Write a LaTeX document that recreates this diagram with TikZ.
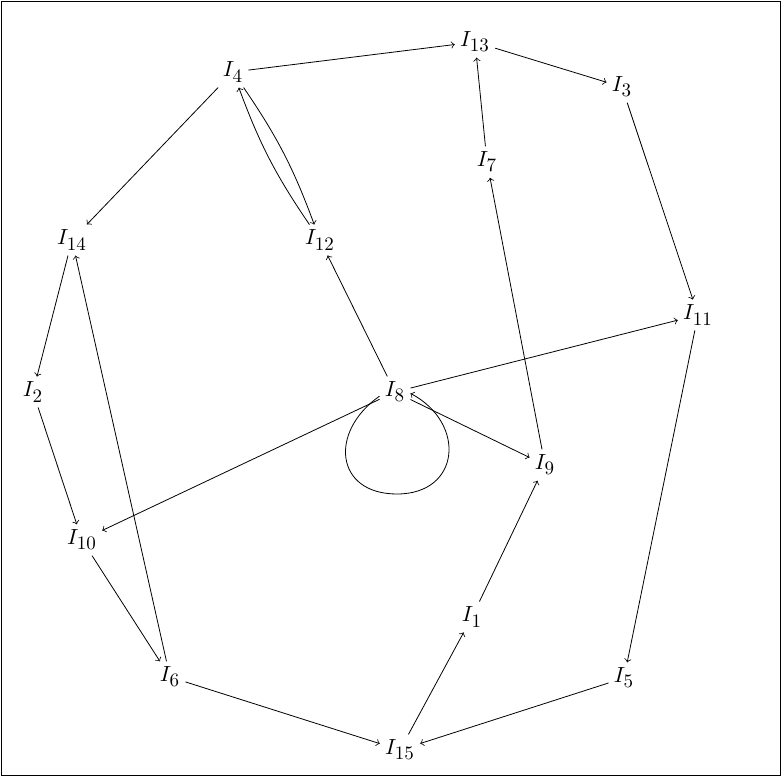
\documentclass[tikz,border=0pt]{standalone}
\usetikzlibrary{arrows}
\newcommand{\est}[1]{$I_{\hbox{\fontsize{9.5}{10}\selectfont #1}}$}
\begin{document}
\begin{tikzpicture}[x=0.5pt, y=-0.5pt, >=to,
    estado/.style={inner sep=2.5pt, font=\fontsize{11}{13}\selectfont},
    arista/.style={->, thin}]
    % Marco
    \useasboundingbox (0,0) rectangle (782,777);
    \draw[line width=0.8pt] (1.5,1.5) rectangle (780.5,775.5);

    % Estados
    \node[estado] (I4) at (233,72) {\est{4}};
    \node[estado] (I13) at (475,42) {\est{13}};
    \node[estado] (I3) at (622,87) {\est{3}};
    \node[estado] (I7) at (487,162) {\est{7}};
    \node[estado] (I14) at (72,240) {\est{14}};
    \node[estado] (I12) at (320,240) {\est{12}};
    \node[estado] (I11) at (698,315) {\est{11}};
    \node[estado] (I2) at (33,392) {\est{2}};
    \node[estado] (I8) at (395,392) {\est{8}};
    \node[estado] (I9) at (545,465) {\est{9}};
    \node[estado] (I10) at (82,540) {\est{10}};
    \node[estado] (I1) at (472,617) {\est{1}};
    \node[estado] (I6) at (170,677) {\est{6}};
    \node[estado] (I5) at (624,678) {\est{5}};
    \node[estado] (I15) at (400,750) {\est{15}};

    % Transiciones
    \draw[arista] (I4) -- (I13);
    \draw[arista] (I13) -- (I3);
    \draw[arista] (I7) -- (I13);
    \draw[arista] (I3) -- (I11);
    \draw[arista] (I4) -- (I14);
    \draw[arista] (I4) to[bend left=7] (I12);
    \draw[arista] (I12) to[bend left=7] (I4);
    \draw[arista] (I14) -- (I2);
    \draw[arista] (I2) -- (I10);
    \draw[arista] (I10) -- (I6);
    \draw[arista] (I6) -- (I14);
    \draw[arista] (I6) -- (I15);
    \draw[arista] (I5) -- (I15);
    \draw[arista] (I11) -- (I5);
    \draw[arista] (I15) -- (I1);
    \draw[arista] (I1) -- (I9);
    \draw[arista] (I9) -- (I7);
    \draw[arista] (I8) -- (I12);
    \draw[arista] (I8) -- (I11);
    \draw[arista] (I8) -- (I10);
    \draw[arista] (I8) -- (I9);

    % Lazo en I8
    \coordinate (lazo) at (397,494);
    \draw[arista] (I8.195) to[out=215, in=180, looseness=1.6] (lazo)
        to[out=0, in=-28, looseness=1.6] (I8.-5);
\end{tikzpicture}
\end{document}
